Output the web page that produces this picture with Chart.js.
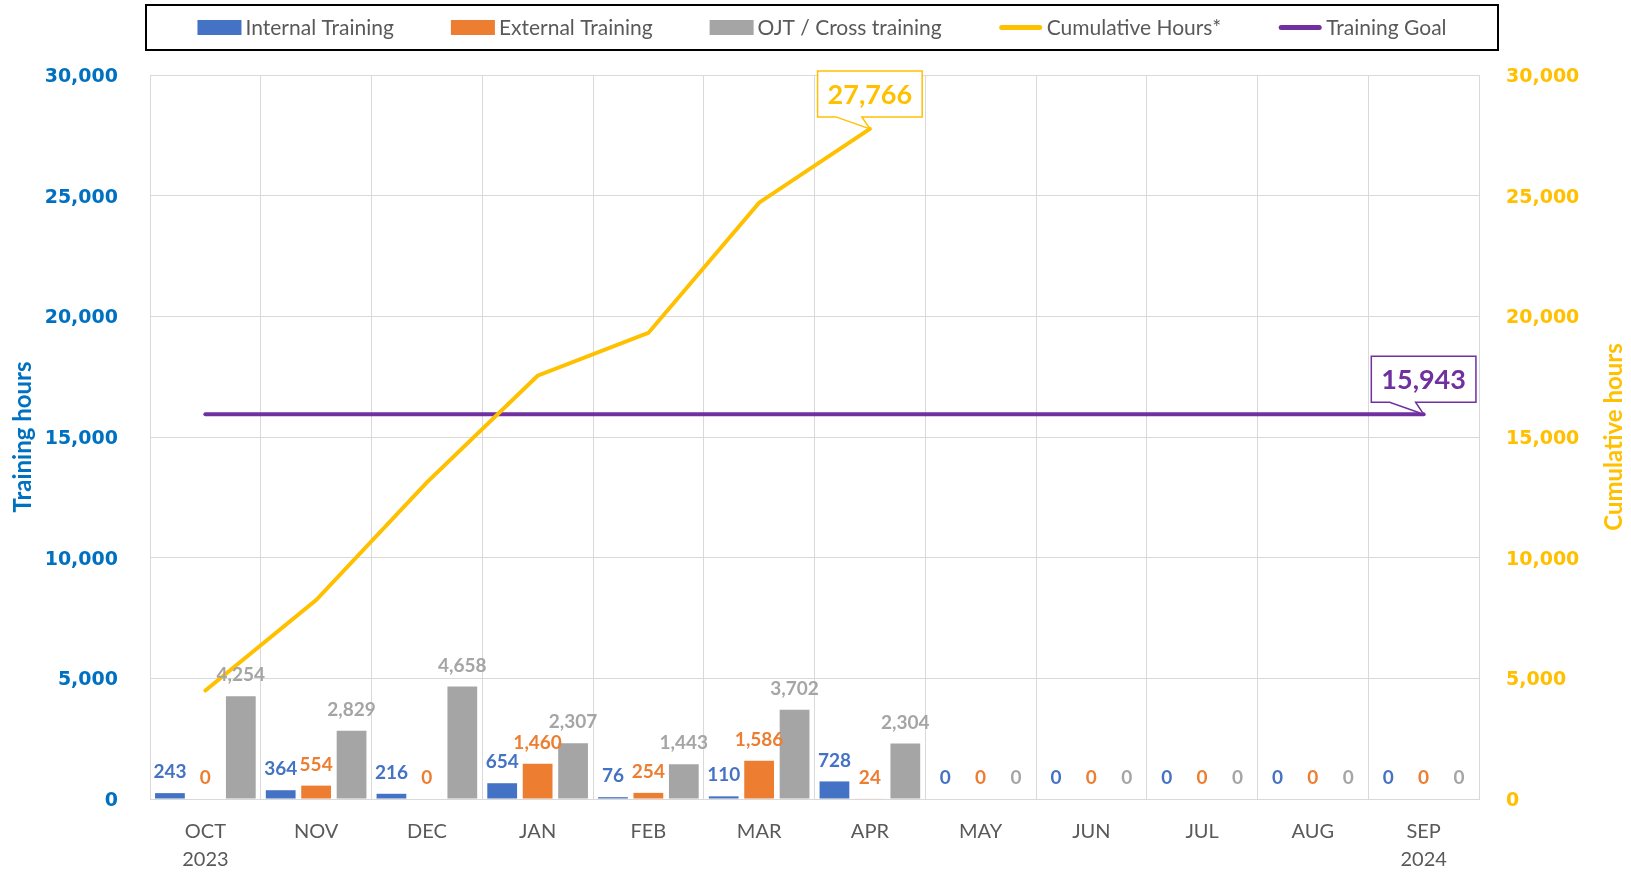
<!DOCTYPE html>
<html>
<head>
<meta charset="utf-8">
<title>Training hours</title>
<script src="https://cdn.jsdelivr.net/npm/chart.js@4"></script>
<style>
  html, body { margin: 0; padding: 0; background: #ffffff; }
  canvas { display: block; }
</style>
</head>
<body>
<canvas id="trainingChart" width="1631" height="872"></canvas>
<script>
// ==================== DATA ====================
const months = [['OCT', '2023'], ['NOV'], ['DEC'], ['JAN'], ['FEB'], ['MAR'], ['APR'],
                ['MAY'], ['JUN'], ['JUL'], ['AUG'], ['SEP', '2024']];

const internalHours = [243, 364, 216, 654, 76, 110, 728, 0, 0, 0, 0, 0];
const externalHours = [0, 554, 0, 1460, 254, 1586, 24, 0, 0, 0, 0, 0];
const ojtHours = [4254, 2829, 4658, 2307, 1443, 3702, 2304, 0, 0, 0, 0, 0];
const cumulativeHours = [4497, 8244, 13118, 17539, 19312, 24710, 27766, null, null, null, null, null];
const trainingGoal = [15943, 15943, 15943, 15943, 15943, 15943, 15943, 15943, 15943, 15943, 15943, 15943];

const axisTicks = [0, 5000, 10000, 15000, 20000, 25000, 30000];

const BLUE = '#4472C4';
const ORANGE = '#ED7D31';
const GRAY = '#A5A5A5';
const GOLD = '#FFC000';
const PURPLE = '#7030A0';
const GRID = '#D9D9D9';
const TEXT = '#595959';

Chart.defaults.font.family = 'Lato, "Open Sans", sans-serif';

const fmt = v => Number(v).toLocaleString('en-US');

// ==================== PLUGINS ====================
// value labels above every bar
const barValueLabels = {
    id: 'barValueLabels',
    afterDatasetsDraw(chart) {
        const ctx = chart.ctx;
        ctx.save();
        ctx.font = 'bold 19px Lato';
        ctx.textAlign = 'center';
        ctx.textBaseline = 'middle';
        chart.data.datasets.forEach((ds, i) => {
            if (ds.type === 'line') return;
            const meta = chart.getDatasetMeta(i);
            ctx.fillStyle = ds.backgroundColor;
            meta.data.forEach((bar, j) => {
                ctx.fillText(fmt(ds.data[j]), bar.x, bar.y - 21);
            });
        });
        ctx.restore();
    }
};

// speech-bubble label on the last point of a line
function drawCallout(ctx, px, py, text, color) {
    ctx.save();
    ctx.font = 'bold 27px Lato';
    const w = ctx.measureText(text).width + 20;
    const h = 46;
    const left = px - w / 2, right = px + w / 2;
    const bottom = py - 12, top = bottom - h;
    ctx.beginPath();
    ctx.moveTo(left, top);
    ctx.lineTo(right, top);
    ctx.lineTo(right, bottom);
    ctx.lineTo(px - 8, bottom);
    ctx.lineTo(px, py);
    ctx.lineTo(px - 34, bottom);
    ctx.lineTo(left, bottom);
    ctx.closePath();
    ctx.fillStyle = '#ffffff';
    ctx.fill();
    ctx.lineWidth = 1.5;
    ctx.strokeStyle = color;
    ctx.stroke();
    ctx.fillStyle = color;
    ctx.textAlign = 'center';
    ctx.textBaseline = 'middle';
    ctx.fillText(text, px, top + h / 2 + 1);
    ctx.restore();
}

const lineCallouts = {
    id: 'lineCallouts',
    afterDatasetsDraw(chart) {
        chart.data.datasets.forEach((ds, i) => {
            if (ds.type !== 'line') return;
            let last = -1;
            ds.data.forEach((v, j) => { if (v !== null) last = j; });
            if (last < 0) return;
            const pt = chart.getDatasetMeta(i).data[last];
            drawCallout(chart.ctx, pt.x, pt.y, fmt(ds.data[last]), ds.borderColor);
        });
    }
};

// legend inside a black frame, plus the right axis title
const framedLegend = {
    id: 'framedLegend',
    afterDraw(chart) {
        const { ctx, chartArea } = chart;
        const left = chartArea.left - 4, right = chartArea.right + 19;
        const top = 5, bottom = 50;
        ctx.save();
        ctx.strokeStyle = '#000000';
        ctx.lineWidth = 2;
        ctx.strokeRect(left, top, right - left, bottom - top);

        ctx.font = '21px Lato';
        const swatch = 44, textGap = 4, itemGap = 57;
        const items = chart.data.datasets.map(ds => ({
            text: ds.label,
            color: ds.type === 'line' ? ds.borderColor : ds.backgroundColor,
            line: ds.type === 'line',
            w: ctx.measureText(ds.label).width
        }));
        const total = items.reduce((s, it) => s + swatch + textGap + it.w, 0) + itemGap * (items.length - 1);
        let x = (left + right) / 2 - total / 2;
        const cy = (top + bottom) / 2;
        ctx.textBaseline = 'middle';
        ctx.textAlign = 'left';
        items.forEach(it => {
            if (it.line) {
                ctx.beginPath();
                ctx.moveTo(x + 3, cy);
                ctx.lineTo(x + swatch - 3, cy);
                ctx.lineWidth = 5;
                ctx.lineCap = 'round';
                ctx.strokeStyle = it.color;
                ctx.stroke();
            } else {
                ctx.fillStyle = it.color;
                ctx.fillRect(x, cy - 7.5, swatch, 15);
            }
            x += swatch + textGap;
            ctx.fillStyle = TEXT;
            ctx.fillText(it.text, x, cy + 1);
            x += it.w + itemGap;
        });

        // right axis title, reading bottom to top
        const y2 = chart.scales.y2;
        ctx.translate(y2.right - 17, (chartArea.top + chartArea.bottom) / 2);
        ctx.rotate(-Math.PI / 2);
        ctx.font = 'bold 24px Lato';
        ctx.fillStyle = GOLD;
        ctx.textAlign = 'center';
        ctx.fillText('Cumulative hours', 0, 0);
        ctx.restore();
    }
};

// ==================== CHART ====================
const barBase = {
    categoryPercentage: 0.96,
    barPercentage: 0.84,
    borderWidth: 0,
    order: 2,
    yAxisID: 'y'
};

const valueTicks = (color, padding) => ({
    color: color,
    padding: padding,
    labelOffset: 2,
    font: { family: '"DejaVu Sans"', size: 19, weight: 'bold' },
    callback: v => fmt(v)
});

new Chart(document.getElementById('trainingChart'), {
    type: 'bar',
    data: {
        labels: months,
        datasets: [
            { ...barBase, label: 'Internal Training', data: internalHours, backgroundColor: BLUE },
            { ...barBase, label: 'External Training', data: externalHours, backgroundColor: ORANGE },
            { ...barBase, label: 'OJT / Cross training', data: ojtHours, backgroundColor: GRAY },
            {
                type: 'line', label: 'Cumulative Hours*', data: cumulativeHours,
                borderColor: GOLD, backgroundColor: GOLD, borderWidth: 4,
                borderCapStyle: 'round', pointRadius: 0, tension: 0,
                order: 1, yAxisID: 'y2'
            },
            {
                type: 'line', label: 'Training Goal', data: trainingGoal,
                borderColor: PURPLE, backgroundColor: PURPLE, borderWidth: 4,
                borderCapStyle: 'round', pointRadius: 0, tension: 0,
                order: 1, yAxisID: 'y'
            }
        ]
    },
    options: {
        responsive: false,
        animation: false,
        layout: { padding: { top: 75, left: 0, right: 0, bottom: 0 } },
        plugins: {
            legend: { display: false },
            tooltip: { enabled: false }
        },
        scales: {
            x: {
                offset: true,
                grid: { color: GRID, drawTicks: false, offset: true },
                border: { color: GRID },
                ticks: {
                    color: TEXT, padding: 19, maxRotation: 0, autoSkip: false,
                    font: { size: 20, lineHeight: 1.4 }
                },
                afterFit(scale) { scale.height = 73; }
            },
            y: {
                position: 'left',
                min: 0, max: 30000,
                afterBuildTicks(scale) { scale.ticks = axisTicks.map(v => ({ value: v })); },
                ticks: valueTicks('#0070C0', 32),
                grid: { color: GRID, drawTicks: false },
                border: { color: GRID },
                title: {
                    display: true, text: 'Training hours', color: '#0070C0',
                    font: { size: 24, weight: 'bold' }, padding: { top: 9, bottom: 0 }
                },
                afterFit(scale) { scale.width = 150; }
            },
            y2: {
                position: 'right',
                min: 0, max: 30000,
                afterBuildTicks(scale) { scale.ticks = axisTicks.map(v => ({ value: v })); },
                ticks: valueTicks(GOLD, 27),
                grid: { drawOnChartArea: false, drawTicks: false },
                border: { color: GRID },
                afterFit(scale) { scale.width = 152; }
            }
        }
    },
    plugins: [barValueLabels, lineCallouts, framedLegend]
});
</script>
</body>
</html>
